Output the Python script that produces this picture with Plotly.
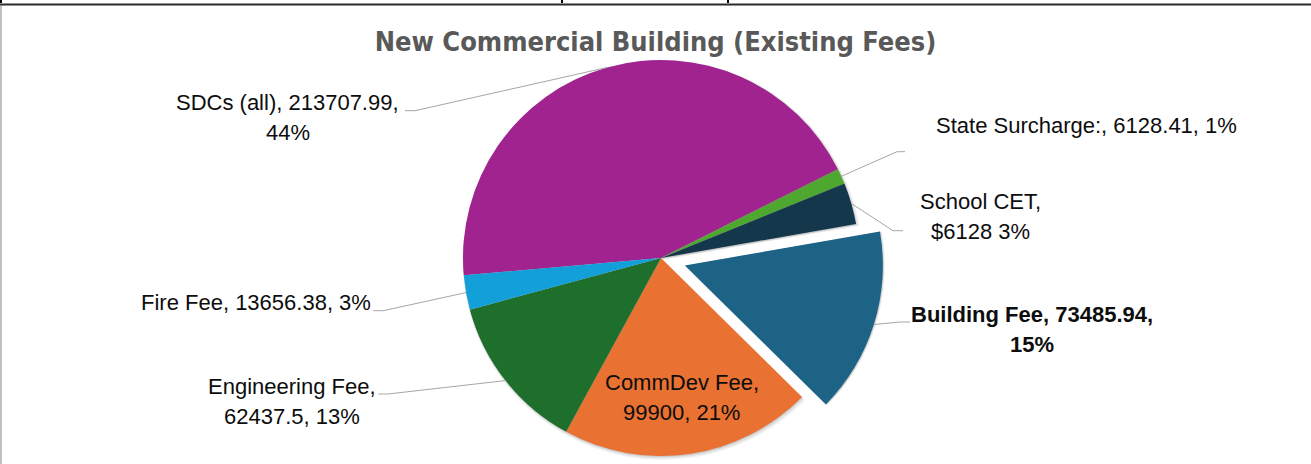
import math
import plotly.graph_objects as go

# ---- data -------------------------------------------------------------
fee_names = ["SDCs (all)", "State Surcharge:", "School CET", "Building Fee",
             "CommDev Fee", "Engineering Fee", "Fire Fee"]
fee_values = [213707.99, 6128.41, 16500.00, 73485.94, 99900.00, 62437.50, 13656.38]
value_labels = ["213707.99", "6128.41", "$6128", "73485.94", "99900", "62437.5", "13656.38"]
fee_colors = ["#A0238F", "#4EA72E", "#15374C", "#1C6386", "#E97132", "#1E6E2C", "#13A0D8"]
pulled_name = "Building Fee"
title_text = "New Commercial Building (Existing Fees)"

# ---- page geometry (pixels) -------------------------------------------
W, H = 1311, 464
CX, CY, R = 661.0, 258.0, 198.0      # pie centre and radius
PULL_PX = 25.0                       # how far the highlighted slice is pulled out
ROTATION = 265                       # first slice starts here (deg clockwise from 12 o'clock)
LINE_H = 30.0                        # line spacing of the data labels
LABEL_SIZE = 22
LABEL_FONT = "Liberation Sans, Arial, sans-serif"
LEADER_COLOR = "#A6A6A6"
# soft drop shadow: (dx, dy, extra radius, alpha) per layer, outermost first
SHADOW = [(1.5, 2.0, 2.0, 0.05), (1.0, 1.5, 1.0, 0.07), (0.5, 1.0, 0.0, 0.10)]


def px(x):
    return x / W


def py(y):
    return 1 - y / H


def domain(cx, cy, r):
    return dict(x=[px(cx - r), px(cx + r)], y=[py(cy + r), py(cy - r)])


total = sum(fee_values)
shares = [v / total for v in fee_values]
pcts = [round(100 * s) for s in shares]

# mid angle of every slice (degrees clockwise from 12 o'clock)
mid_deg = []
acc = ROTATION
for s in shares:
    mid_deg.append(acc + s * 180.0)
    acc += s * 360.0


def polar(cx, cy, r, deg):
    a = math.radians(deg)
    return cx + r * math.sin(a), cy - r * math.cos(a)


pull_idx = fee_names.index(pulled_name)
PCX, PCY = polar(CX, CY, PULL_PX, mid_deg[pull_idx])

transparent = "rgba(0,0,0,0)"
main_mask = [i != pull_idx for i in range(len(fee_values))]
pull_mask = [i == pull_idx for i in range(len(fee_values))]

fig = go.Figure()
common = dict(labels=fee_names, values=fee_values, sort=False, direction="clockwise",
              rotation=ROTATION, textinfo="none", showlegend=False)


def add_pie(colors, mask, cx, cy, r, hover=True):
    fig.add_trace(go.Pie(
        marker=dict(colors=[c if m else transparent for c, m in zip(colors, mask)],
                    line=dict(width=0)),
        domain=domain(cx, cy, r),
        hoverinfo="label+value+percent" if hover else "skip",
        **common))


# shadows (kept inside the page box)
for mask, (cx, cy) in ((main_mask, (CX, CY)), (pull_mask, (PCX, PCY))):
    room = H - (cy + R)
    for dx, dy, dr, a in SHADOW:
        dr_eff = min(dr, max(room, 0))
        dy_eff = min(dy, max(room - dr_eff, 0))
        add_pie([f"rgba(0,0,0,{a})"] * len(fee_values), mask,
                cx + dx, cy + dy_eff, R + dr_eff, hover=False)

add_pie(fee_colors, main_mask, CX, CY, R)
add_pie(fee_colors, pull_mask, PCX, PCY, R)

# ---- data labels --------------------------------------------------------
label_lines = [
    [f"{fee_names[0]}, {value_labels[0]},", f"{pcts[0]}%"],
    [f"{fee_names[1]}, {value_labels[1]}, {pcts[1]}%"],
    [f"{fee_names[2]},", f"{value_labels[2]} {pcts[2]}%"],
    [f"<b>{fee_names[3]}, {value_labels[3]},</b>", f"<b>{pcts[3]}%</b>"],
    [f"{fee_names[4]},", f"{value_labels[4]}, {pcts[4]}%"],
    [f"{fee_names[5]},", f"{value_labels[5]}, {pcts[5]}%"],
    [f"{fee_names[6]}, {value_labels[6]}, {pcts[6]}%"],
]

# label block centre (x, y of first line) and leader line elbow / end points
label_place = {
    0: dict(xy=(287.5, 102.5), elbow=(415.0, 110.7), end=(405.0, 110.7)),
    1: dict(xy=(1086.0, 125.8), elbow=(897.0, 151.7), end=(905.0, 151.7)),
    2: dict(xy=(980.0, 201.3), elbow=(893.0, 230.7), end=(903.0, 230.7)),
    3: dict(xy=(1032.0, 314.0), elbow=(900.0, 322.0), end=(910.0, 322.0)),
    5: dict(xy=(292.0, 386.0), elbow=(388.0, 394.0), end=(378.3, 394.0)),
    6: dict(xy=(255.7, 302.8), elbow=(383.3, 310.7), end=(373.3, 310.7)),
}
INSIDE = {4: 0.71}   # slices labelled inside the pie, at this fraction of the radius

annotations = []
shapes = []
for i, lines in enumerate(label_lines):
    if i in INSIDE:
        lx, ly = polar(CX, CY, R * INSIDE[i], mid_deg[i])
        y0 = ly - (len(lines) - 1) * LINE_H / 2
    else:
        lx, y0 = label_place[i]["xy"]
    for k, t in enumerate(lines):
        annotations.append(dict(
            x=px(lx), y=py(y0 + k * LINE_H), xref="paper", yref="paper",
            text=t, showarrow=False, xanchor="center", yanchor="middle",
            font=dict(family=LABEL_FONT, size=LABEL_SIZE, color="#0D0D0D")))
    if i in label_place:
        ccx, ccy = (PCX, PCY) if i == pull_idx else (CX, CY)
        ex, ey = polar(ccx, ccy, R, mid_deg[i])
        bx, by = label_place[i]["elbow"]
        tx, ty = label_place[i]["end"]
        shapes.append(dict(
            type="path", xref="paper", yref="paper",
            path=f"M {px(ex)},{py(ey)} L {px(bx)},{py(by)} L {px(tx)},{py(ty)}",
            line=dict(color=LEADER_COLOR, width=1)))

# ---- chart-area frame ---------------------------------------------------
shapes.append(dict(type="line", xref="paper", yref="paper", x0=0, x1=1,
                   y0=py(4.5), y1=py(4.5), line=dict(color="#2B2B2B", width=2)))
shapes.append(dict(type="line", xref="paper", yref="paper", x0=px(1), x1=px(1),
                   y0=py(5), y1=0, line=dict(color="#808080", width=1)))
for tx in (1, 562, 728):
    shapes.append(dict(type="line", xref="paper", yref="paper", x0=px(tx), x1=px(tx),
                       y0=1, y1=py(3), line=dict(color="#000000", width=2)))

fig.update_layout(
    width=W, height=H,
    margin=dict(l=0, r=0, t=0, b=0),
    paper_bgcolor="white", plot_bgcolor="white",
    title=dict(text=f"<b>{title_text}</b>", x=0.5, xanchor="center",
               y=py(42), yanchor="middle",
               font=dict(family="Liberation Sans Narrow, DejaVu Sans Condensed, Arial Narrow, sans-serif",
                         size=27, color="#595959")),
    annotations=annotations,
    shapes=shapes,
)

fig.write_html("out.html")
